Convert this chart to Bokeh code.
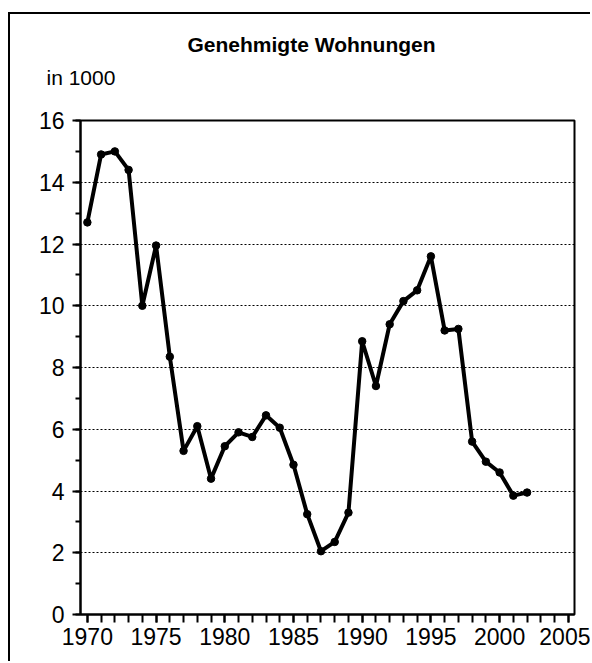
from bokeh.plotting import figure
from bokeh.models import Range1d, SingleIntervalTicker, Label
from bokeh.embed import file_html
from bokeh.resources import INLINE

# --- data -------------------------------------------------------------
years = list(range(1970, 2003))
wohnungen = [12.7, 14.9, 15.0, 14.4, 10.0, 11.95, 8.35, 5.3, 6.1, 4.4,
             5.45, 5.9, 5.75, 6.45, 6.05, 4.85, 3.25, 2.05, 2.35, 3.3,
             8.85, 7.4, 9.4, 10.15, 10.5, 11.6, 9.2, 9.25, 5.6, 4.95,
             4.6, 3.85, 3.95]
title_text = "Genehmigte Wohnungen"
unit_text = "in 1000"

FONT = "Liberation Sans"
FS = "23px"

# the figure is shifted by a margin and gets a left/top border (outer box)
p = figure(width=582, height=649, output_backend="svg", toolbar_location=None,
           title=None,
           x_range=Range1d(1969.5, 2005.45), y_range=Range1d(0, 16),
           min_border_left=70, min_border_right=18, min_border_top=106,
           min_border_bottom=49)
p.margin = (12, 0, 0, 8)
p.styles = {"border-left": "2px solid black", "border-top": "2px solid black"}

p.outline_line_color = "black"
p.outline_line_width = 2

# axes
xa = p.xaxis[0]
xa.ticker = SingleIntervalTicker(interval=5, num_minor_ticks=5)
ya = p.yaxis[0]
ya.ticker = SingleIntervalTicker(interval=2, num_minor_ticks=2)
for ax in (xa, ya):
    ax.axis_line_color = "black"
    ax.axis_line_width = 2
    ax.major_tick_line_color = "black"
    ax.minor_tick_line_color = "black"
    ax.major_tick_line_width = 2
    ax.minor_tick_line_width = 2
    ax.major_tick_in = 0
    ax.minor_tick_in = 0
    ax.major_label_text_font = FONT
    ax.major_label_text_font_size = FS
    ax.major_label_text_color = "black"
xa.major_tick_out = 8
xa.minor_tick_out = 8
xa.major_label_standoff = 5
ya.major_tick_out = 8
ya.minor_tick_out = 5
ya.major_label_standoff = 8

p.xgrid.grid_line_color = None
p.ygrid.ticker = SingleIntervalTicker(interval=2)
p.ygrid.grid_line_color = "black"
p.ygrid.grid_line_width = 1
p.ygrid.grid_line_dash = "2 2"

# data
p.line(years, wohnungen, line_color="black", line_width=4)
p.scatter(years, wohnungen, size=7.5, color="black")

# texts above the frame (canvas coordinates)
p.add_layout(Label(x=34, y=61, x_units="canvas", y_units="canvas",
                   text=unit_text, text_font=FONT,
                   text_font_size="21px", text_align="left",
                   text_baseline="middle", text_color="black"), "above")
p.add_layout(Label(x=175, y=28, x_units="canvas", y_units="canvas",
                   text=title_text, text_font=FONT,
                   text_font_size="21px", text_font_style="bold",
                   text_align="left", text_baseline="middle",
                   text_color="black"), "above")

open("out.html", "w").write(file_html(p, INLINE))
